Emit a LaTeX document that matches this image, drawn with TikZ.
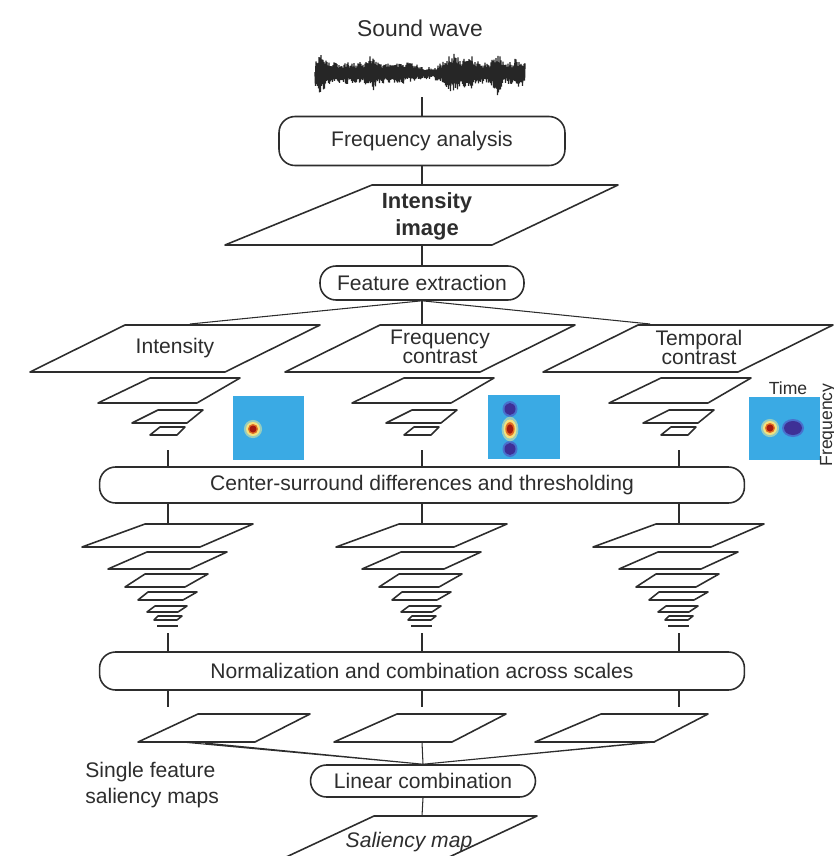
\documentclass[tikz,border=0pt]{standalone}
\usepackage{fontspec}
\setmainfont{Liberation Sans}
\usepackage{tikz}
\usetikzlibrary{calc,positioning}

\definecolor{ink}{RGB}{45,45,45}
\definecolor{mapblue}{RGB}{58,170,228}
\definecolor{blobblue}{RGB}{62,48,150}
\definecolor{blobhalo}{RGB}{72,112,205}
\definecolor{hotred}{RGB}{165,25,15}
\definecolor{hotorange}{RGB}{225,110,35}
\definecolor{hotyellow}{RGB}{245,225,125}
\definecolor{hothalo}{RGB}{150,205,190}

\tikzset{
  box/.style={draw=ink, line width=0.9pt, rounded corners=0.32cm, inner sep=0pt, text=ink, font=\fontsize{12}{14}\selectfont},
  sheet/.style={draw=ink, line width=0.9pt, line join=round},
  link/.style={draw=ink, line width=0.6pt},
  lbl/.style={text=ink, font=\fontsize{12}{10.8}\selectfont, align=center, inner sep=0pt},
}

% parallelogram: top-left x, top y, top-right x, bottom-right x, bottom y, bottom-left x
\newcommand{\sheetat}[6]{\draw[sheet] (#1,#2) -- (#3,#2) -- (#4,#5) -- (#6,#5) -- cycle;}
% hot spot: x, y, x radius, y radius
\newcommand{\hotspot}[4]{%
  \fill[hothalo] (#1,#2) ellipse [x radius=1.3*#3, y radius=1.3*#4];
  \fill[hotyellow] (#1,#2) ellipse [x radius=#3, y radius=#4];
  \fill[hotorange] (#1,#2) ellipse [x radius=0.72*#3, y radius=0.72*#4];
  \fill[hotred] (#1,#2) ellipse [x radius=0.5*#3, y radius=0.5*#4];}
\newcommand{\blob}[4]{%
  \fill[blobhalo] (#1,#2) ellipse [x radius=#3+2, y radius=#4+2];
  \fill[blobblue] (#1,#2) ellipse [x radius=#3, y radius=#4];}

\begin{document}
\begin{tikzpicture}[x=0.02cm, y=-0.02cm,
  declare function={env(\t)=11+12*exp(-((\t-322)/5)^2)+8*exp(-((\t-372)/4)^2)-5*exp(-((\t-428)/14)^2)
    +9*exp(-((\t-452)/8)^2)+7*exp(-((\t-470)/6)^2)+12*exp(-((\t-497)/4)^2)+4*exp(-((\t-518)/6)^2);}]
\useasboundingbox (0,0) rectangle (834,856);

% input
\node[lbl, font=\fontsize{13}{15}\selectfont] (title) at (420,28) {Sound wave};
\pgfmathsetseed{11}
\draw[black!85, line width=0.75pt, line join=bevel] (315,72) \foreach \i in {1,...,420} { -- ({315+0.5*\i},{73-(1-2*mod(\i,2))*env(315+0.5*\i)*(0.45+0.55*rnd)}) };
\coordinate (wave) at (422,97);

\node[box, minimum width=5.72cm, minimum height=0.98cm] (freq) at (422,141) {Frequency analysis};
\draw[link] (wave) -- (freq.north);

\draw[sheet] (372,185) -- (618,185) -- (492,245) -- (225,245) -- cycle;
\coordinate (imgtop) at (422,185);
\coordinate (imgbot) at (422,245);
\node[lbl, font=\bfseries\fontsize{12.5}{15.3}\selectfont] (img) at (427,216) {Intensity\\image};
\draw[link] (freq.south) -- (imgtop);

\node[box, minimum width=4.08cm, minimum height=0.68cm] (feat) at (422,283) {Feature extraction};
\draw[link] (imgbot) -- (feat.north);

% feature maps
\sheetat{125}{325}{320}{225}{372}{30}
\sheetat{380}{325}{575}{480}{372}{285}
\sheetat{638}{325}{833}{738}{372}{543}
\coordinate (int-in) at (190,324);
\coordinate (fc-in) at (422,325);
\coordinate (tc-in) at (650,324);
\draw[link] (feat.south) -- (int-in);
\draw[link] (feat.south) -- (fc-in);
\draw[link] (feat.south) -- (tc-in);
\node[lbl] (int-lbl) at (175,348) {Intensity};
\node[lbl] (fc-lbl) at (440,347) {Frequency\\contrast};
\node[lbl] (tc-lbl) at (699,347) {Temporal\\contrast};

\node[box, minimum width=12.9cm, minimum height=0.72cm] (cs) at (422,485) {Center-surround differences and thresholding};
\node[box, minimum width=12.9cm, minimum height=0.76cm] (norm) at (422,671) {Normalization and combination across scales};

% pyramids
\foreach \c/\k in {168/a,422/b,679/c}{
  \begin{scope}[shift={(\c,0)}]
    \sheetat{-18}{378}{72}{29}{403}{-70}
    \sheetat{-10}{410}{35}{19}{423}{-36}
    \sheetat{-8}{427}{17}{9}{435}{-18}
    \coordinate (fp-\k) at (0,450);
    \coordinate (cp-\k) at (0,523);
    \sheetat{-23}{524}{85}{32}{547}{-86}
    \sheetat{-21}{552}{59}{22}{569}{-60}
    \sheetat{-23}{574}{40}{17}{587}{-43}
    \sheetat{-20}{592}{29}{15}{600}{-30}
    \sheetat{-13}{606}{19}{10}{612}{-21}
    \sheetat{-10}{616}{14}{9}{620}{-14}
    \draw[ink, line width=1.6pt] (-11,626) -- (10,626);
    \coordinate (np-\k) at (0,633);
    \coordinate (sp-\k) at (0,707);
  \end{scope}
  \draw[link] (fp-\k) -- (fp-\k |- cs.north);
  \draw[link] (cp-\k |- cs.south) -- (cp-\k);
  \draw[link] (np-\k) -- (np-\k |- norm.north);
  \draw[link] (sp-\k |- norm.south) -- (sp-\k);
}

% filter kernels
\fill[mapblue] (233,396) rectangle (304,460);
\hotspot{253}{429}{7}{7}
\fill[mapblue] (488,395) rectangle (560,459);
\blob{510}{409}{5.5}{6}
\blob{510}{449}{5.5}{6}
\hotspot{510}{429}{6.5}{9.5}
\fill[mapblue] (749,397) rectangle (820,460);
\blob{793}{428}{9}{7}
\hotspot{770}{428}{7}{7}
\node[lbl, font=\fontsize{10}{12}\selectfont] (time) at (788,388) {Time};
\node[lbl, font=\fontsize{10}{12}\selectfont, rotate=90] (fq) at (828,425) {Frequency};

% single feature saliency maps
\sheetat{198}{714}{310}{255}{742}{138}
\sheetat{397}{714}{506}{452}{742}{334}
\sheetat{601}{714}{708}{654}{742}{535}
\node[lbl, font=\fontsize{12}{14.7}\selectfont, align=left, anchor=west] (sfs) at (85,785) {Single feature\\saliency maps};

\node[box, minimum width=4.5cm, minimum height=0.64cm] (lin) at (423,781) {Linear combination};
\coordinate (l1) at (182,742);
\coordinate (l2) at (205,743);
\coordinate (m1) at (422,742);
\coordinate (r1) at (640,743);
\coordinate (r2) at (655,742);
\draw[link] (l1) -- (lin.north) -- (l2);
\draw[link] (r1) -- (lin.north) -- (r2);
\draw[link] (m1) -- (lin.north);

\draw[sheet] (374,816) -- (537,816) -- (417,872) -- (254,872) -- cycle;
\coordinate (saltop) at (422,816);
\draw[link] (lin.south) -- (saltop);
\node[lbl, font=\itshape\fontsize{12}{14}\selectfont] (sal) at (409,842) {Saliency map};
\end{tikzpicture}
\end{document}
